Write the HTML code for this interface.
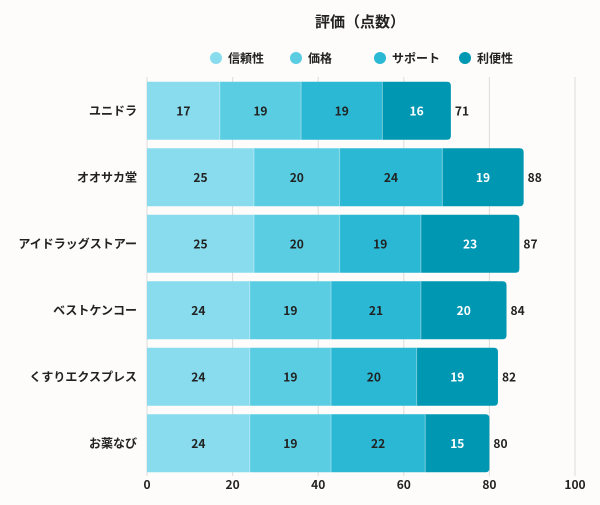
<!DOCTYPE html>
<html><head><meta charset="utf-8"><style>
body{margin:0;background:#fdfcfa;}
svg{font-family:"Noto Sans CJK JP","Liberation Sans",sans-serif;}
</style></head><body>
<svg id="c" width="600" height="500">
<rect width="600" height="500" fill="#fdfcfa"/>
<text x="360" y="27" text-anchor="middle" font-size="15" font-weight="bold" fill="#222">評価（点数）</text>
<g id="legend"></g>
<g id="grid"></g>
<g id="bars"></g>
<g id="xaxis"></g>
<g id="yaxis"></g>
</svg>
<script>
const categories=["ユニドラ","オオサカ堂","アイドラッグストアー","ベストケンコー","くすりエクスプレス","お薬なび"];
const seriesNames=["信頼性","価格","サポート","利便性"];
const s1=[17,25,25,24,24,24];
const s2=[19,20,20,19,19,19];
const s3=[19,24,19,21,20,22];
const s4=[16,19,23,20,19,15];
const xTicks=[0,20,40,60,80,100];
const colors=["#88dcee","#5acde3","#2ab8d4","#0097b2"];
const ns="http://www.w3.org/2000/svg";
const X0=147,X1=575,T=77,B=476;
const x=v=>X0+(v/100)*(X1-X0);
const band=(B-T)/categories.length;
const y=i=>T+i*band+(band-58)/2+0.5;
function mk(tag,at,p){const e=document.createElementNS(ns,tag);for(const k in at)e.setAttribute(k,at[k]);p.appendChild(e);return e;}
const series=[s1,s2,s3,s4];
const lx=[216,296,380,465];
seriesNames.forEach((n,i)=>{
 const g=document.getElementById('legend');
 const c=mk('circle',{cx:lx[i],cy:58,r:6,fill:colors[i]},g);
 
 
 const t=mk('text',{x:lx[i]+12,y:62.5,'font-size':12,'font-weight':'bold',fill:'#222'},g);
 t.textContent=n;
 
 
});
xTicks.forEach(v=>{
 const l=mk('line',{x1:x(v),x2:x(v),y1:T,y2:B,stroke:'#dcdcdc','stroke-width':1},document.getElementById('grid'));
 
 
 const t=mk('text',{x:x(v),y:489,'text-anchor':'middle','font-size':12,'font-weight':'bold',fill:'#222'},document.getElementById('xaxis'));
 t.textContent=v;
 
 
});
const bars=document.getElementById('bars');
categories.forEach((cat,i)=>{
 let acc=0;const yy=y(i);
 const lab=mk('text',{x:137,y:yy+33,'text-anchor':'end','font-size':12,'font-weight':'bold',fill:'#222'},document.getElementById('yaxis'));
 lab.textContent=cat;
 
 
 series.forEach((s,j)=>{
  const v=s[i];const x0=x(acc),x1=x(acc+v);
  let r;
  if(j===3){
   const h=58,rr=4;
   r=mk('path',{d:`M${x0},${yy}H${x1-rr}Q${x1},${yy} ${x1},${yy+rr}V${yy+h-rr}Q${x1},${yy+h} ${x1-rr},${yy+h}H${x0}Z`,fill:colors[j]},bars);
  } else {
   r=mk('rect',{x:x0,y:yy,width:x1-x0,height:58,fill:colors[j]},bars);
  }
  
  
  if(j>0){const sl=mk('line',{x1:x0,x2:x0,y1:yy,y2:yy+58,stroke:'#ffffff','stroke-opacity':0.35,'stroke-width':1},bars);
   
   }
  const t=mk('text',{x:(x0+x1)/2,y:yy+33.5,'text-anchor':'middle','font-size':12,'font-weight':'bold',fill:j===3?'#fff':'#222'},bars);
  t.textContent=v;
  
  
  acc+=v;
 });
 const tt=mk('text',{x:x(acc)+4,y:yy+33.5,'font-size':12,'font-weight':'bold',fill:'#222'},bars);
 tt.textContent=acc;
 
 
});
</script>
</body></html>
